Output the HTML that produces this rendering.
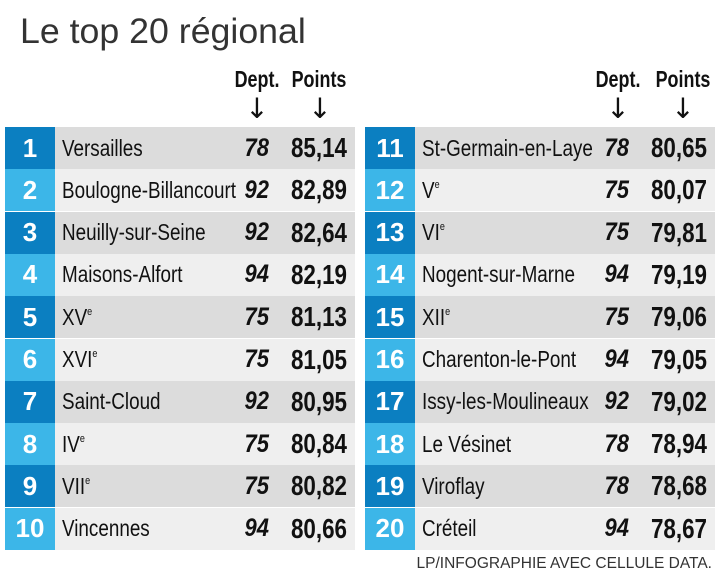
<!DOCTYPE html>
<html><head><meta charset="utf-8"><style>
body{margin:0;width:720px;height:587px;background:#fff;font-family:"Liberation Sans",sans-serif;position:relative;overflow:hidden}
.t{position:absolute;left:20px;top:12px;font-size:35px;color:#333;transform:scaleX(1.02);transform-origin:left}
.h{position:absolute;font-weight:bold;font-size:23px;color:#111;text-align:center;width:90px;transform:scaleX(0.78)}
.a{position:absolute;font-size:28px;color:#111;width:30px;text-align:center;font-family:"DejaVu Sans",sans-serif}
.row{position:absolute;height:42px;display:flex;align-items:center}
.n{width:50px;height:100%;display:flex;align-items:center;justify-content:center;color:#fff;font-weight:bold;font-size:26px}
.nm{position:absolute;left:57px;font-size:23px;color:#111;transform:scaleX(0.82);transform-origin:left;white-space:nowrap}
.d{position:absolute;font-size:25px;font-style:italic;font-weight:bold;color:#111;text-align:right;width:40px;transform:scaleX(0.88);transform-origin:right}
.p{position:absolute;font-size:28px;font-weight:bold;color:#111;text-align:right;width:90px;transform:scaleX(0.8);transform-origin:right}
sup{font-size:11px;vertical-align:10px}
.f{position:absolute;right:8px;top:555px;font-size:15.5px;color:#333}
</style></head><body>
<div class="t">Le top 20 régional</div>
<div class="h" style="left:212px;top:66px">Dept.</div><div class="h" style="left:274px;top:66px">Points</div>
<div class="a" style="left:242px;top:92px">↓</div><div class="a" style="left:305px;top:92px">↓</div>
<div class="h" style="left:573px;top:66px">Dept.</div><div class="h" style="left:638px;top:66px">Points</div>
<div class="a" style="left:603px;top:92px">↓</div><div class="a" style="left:668px;top:92px">↓</div>
<div id="c"></div>
<div class="f">LP/INFOGRAPHIE AVEC CELLULE DATA.</div>
<script>
var L=[["Versailles",78,"85,14"],["Boulogne-Billancourt",92,"82,89"],["Neuilly-sur-Seine",92,"82,64"],["Maisons-Alfort",94,"82,19"],["XV<sup>e</sup>",75,"81,13"],["XVI<sup>e</sup>",75,"81,05"],["Saint-Cloud",92,"80,95"],["IV<sup>e</sup>",75,"80,84"],["VII<sup>e</sup>",75,"80,82"],["Vincennes",94,"80,66"],
["St-Germain-en-Laye",78,"80,65"],["V<sup>e</sup>",75,"80,07"],["VI<sup>e</sup>",75,"79,81"],["Nogent-sur-Marne",94,"79,19"],["XII<sup>e</sup>",75,"79,06"],["Charenton-le-Pont",94,"79,05"],["Issy-les-Moulineaux",92,"79,02"],["Le Vésinet",78,"78,94"],["Viroflay",78,"78,68"],["Créteil",94,"78,67"]];
var h="";
L.forEach(function(r,i){var col=i<10?0:1,k=i%10,x=col?365:5,w=350,y=127+k*42.3;
var odd=k%2==0;
h+='<div class="row" style="left:'+x+'px;top:'+y+'px;width:'+w+'px;background:'+(odd?'#dcdcdc':'#efefef')+'"><div class="n" style="background:'+(odd?'#0b7fc1':'#3cb6e8')+'">'+(i+1)+'</div>'+
'<div class="nm">'+r[0]+'</div><div class="d" style="left:224px">'+r[1]+'</div><div class="p" style="left:252px">'+r[2]+'</div></div>';});
document.getElementById("c").innerHTML=h;
</script>
</body></html>
